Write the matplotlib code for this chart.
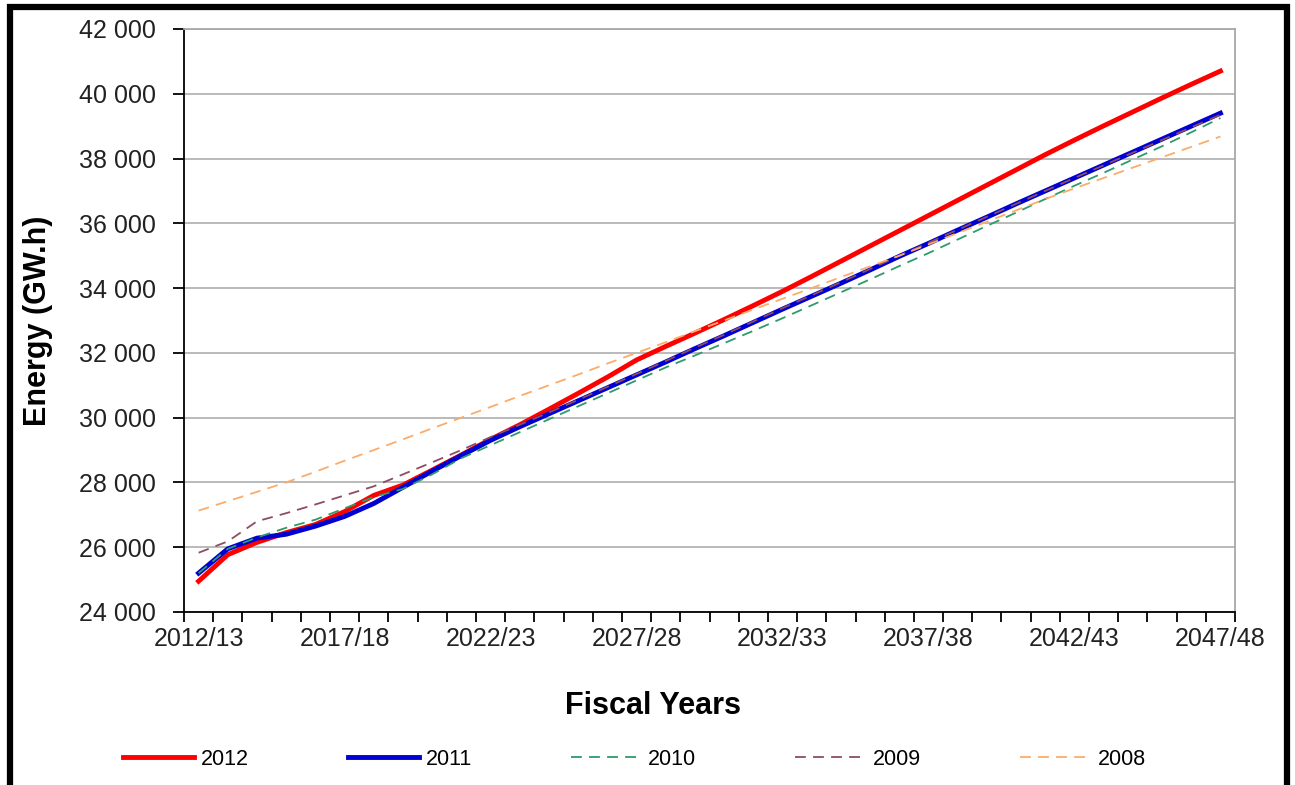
import matplotlib
matplotlib.use("Agg")
import matplotlib.pyplot as plt
from matplotlib.patches import Rectangle
from matplotlib.ticker import FuncFormatter


# -----------------------------------------------------------
# Data (GW.h)
# -----------------------------------------------------------

fiscal_years = [
    "2012/13", "2013/14", "2014/15", "2015/16", "2016/17", "2017/18",
    "2018/19", "2019/20", "2020/21", "2021/22", "2022/23", "2023/24",
    "2024/25", "2025/26", "2026/27", "2027/28", "2028/29", "2029/30",
    "2030/31", "2031/32", "2032/33", "2033/34", "2034/35", "2035/36",
    "2036/37", "2037/38", "2038/39", "2039/40", "2040/41", "2041/42",
    "2042/43", "2043/44", "2044/45", "2045/46", "2046/47", "2047/48",
]

energy_2012 = [
    24950, 25770, 26150, 26450, 26700, 27100, 27600, 27920, 28380, 28850,
    29330, 29780, 30260, 30750, 31250, 31780, 32200, 32610, 33030, 33460,
    33900, 34360, 34830, 35300, 35770, 36240, 36710, 37180, 37650, 38120,
    38570, 39010, 39440, 39870, 40290, 40700,
]

energy_2011 = [
    25200, 25950, 26280, 26400, 26650, 26950, 27350, 27850, 28350, 28830,
    29300, 29720, 30120, 30520, 30920, 31320, 31720, 32130, 32530, 32940,
    33350, 33750, 34150, 34560, 34980, 35380, 35790, 36190, 36600, 37000,
    37400, 37800, 38200, 38600, 39000, 39400,
]

energy_2010 = [
    25200, 25950, 26300, 26600, 26850, 27200, 27550, 27800, 28250, 28750,
    29150, 29550, 29950, 30350, 30750, 31150, 31550, 31920, 32300, 32680,
    33070, 33470, 33870, 34270, 34680, 35080, 35500, 35920, 36330, 36750,
    37160, 37560, 37970, 38380, 38810, 39250,
]

energy_2009 = [
    25830, 26180, 26800, 27050, 27320, 27600, 27880, 28250, 28620, 29000,
    29400, 29780, 30160, 30550, 30950, 31350, 31750, 32160, 32560, 32970,
    33380, 33780, 34180, 34590, 35000, 35400, 35800, 36200, 36600, 37000,
    37400, 37790, 38180, 38570, 38960, 39350,
]

energy_2008 = [
    27130, 27420, 27710, 28000, 28330, 28670, 29000, 29330, 29670, 30000,
    30330, 30670, 31000, 31330, 31670, 32000, 32330, 32670, 33000, 33340,
    33670, 34000, 34340, 34670, 35000, 35350, 35700, 36050, 36400, 36750,
    37080, 37400, 37720, 38040, 38360, 38680,
]

series_names = ["2012", "2011", "2010", "2009", "2008"]


# -----------------------------------------------------------
# Plot
# -----------------------------------------------------------

plt.rcParams["font.family"] = ["Liberation Sans", "DejaVu Sans"]

fig = plt.figure(figsize=(12.95, 7.85), dpi=100)
ax = fig.add_axes([0.1421, 0.2204, 0.8116, 0.7427])

x = list(range(len(fiscal_years)))

ax.plot(x, energy_2012, color="#ff0000", lw=3.5, label=series_names[0])
ax.plot(x, energy_2011, color="#0000d0", lw=3.5, label=series_names[1])
ax.plot(x, energy_2010, color="#2f9a6a", lw=1.3, dashes=(6, 4),
        label=series_names[2])
ax.plot(x, energy_2009, color="#8e4c62", lw=1.3, dashes=(6, 4),
        label=series_names[3])
ax.plot(x, energy_2008, color="#fbac6a", lw=1.3, dashes=(6, 4),
        label=series_names[4])

ax.set_xlim(-0.5, len(fiscal_years) - 0.5)
ax.set_ylim(24000, 42000)

# y axis
ax.set_yticks(range(24000, 42001, 2000))
ax.yaxis.set_major_formatter(
    FuncFormatter(lambda v, p: f"{int(v):,}".replace(",", " "))
)
ax.tick_params(axis="y", length=8, width=1.3, pad=12, labelsize=18,
               labelcolor="#222222")
ax.grid(axis="y", color="#b4b4b4", lw=1.3)
ax.set_axisbelow(True)

# x axis: ticks between categories, labels every 5th category
ax.set_xticks([i - 0.5 for i in range(len(fiscal_years) + 1)])
ax.set_xticklabels([])
ax.tick_params(axis="x", which="major", length=7, width=1.3)
ax.set_xticks(x[::5], fiscal_years[::5], minor=True)
ax.tick_params(axis="x", which="minor", length=0, pad=11, labelsize=18,
               labelcolor="#222222")

for side in ["left", "bottom"]:
    ax.spines[side].set_color("black")
    ax.spines[side].set_linewidth(1.3)
for side in ["top", "right"]:
    ax.spines[side].set_color("#a8a8a8")
    ax.spines[side].set_linewidth(1.3)

ax.set_ylabel("Energy (GW.h)", fontsize=22, fontweight="bold")
ax.yaxis.set_label_coords(-131 / 1051, 0.5)
ax.set_xlabel("Fiscal Years", fontsize=22, fontweight="bold")
ax.xaxis.set_label_coords((653 - 184) / 1051, -0.135)

fig.legend(
    loc="center",
    bbox_to_anchor=(0.49, 0.033),
    ncol=5,
    frameon=False,
    fontsize=15.5,
    handlelength=3.3,
    handletextpad=0.3,
    columnspacing=4.6,
)

# outer chart border
fig.add_artist(Rectangle(
    (10 / 1295, -0.05), 1277 / 1295, 1.05 - 7 / 785,
    transform=fig.transFigure, fill=False, lw=4.5, edgecolor="black",
    clip_on=False,
))

fig.savefig("out.png", dpi=100, facecolor="white")
